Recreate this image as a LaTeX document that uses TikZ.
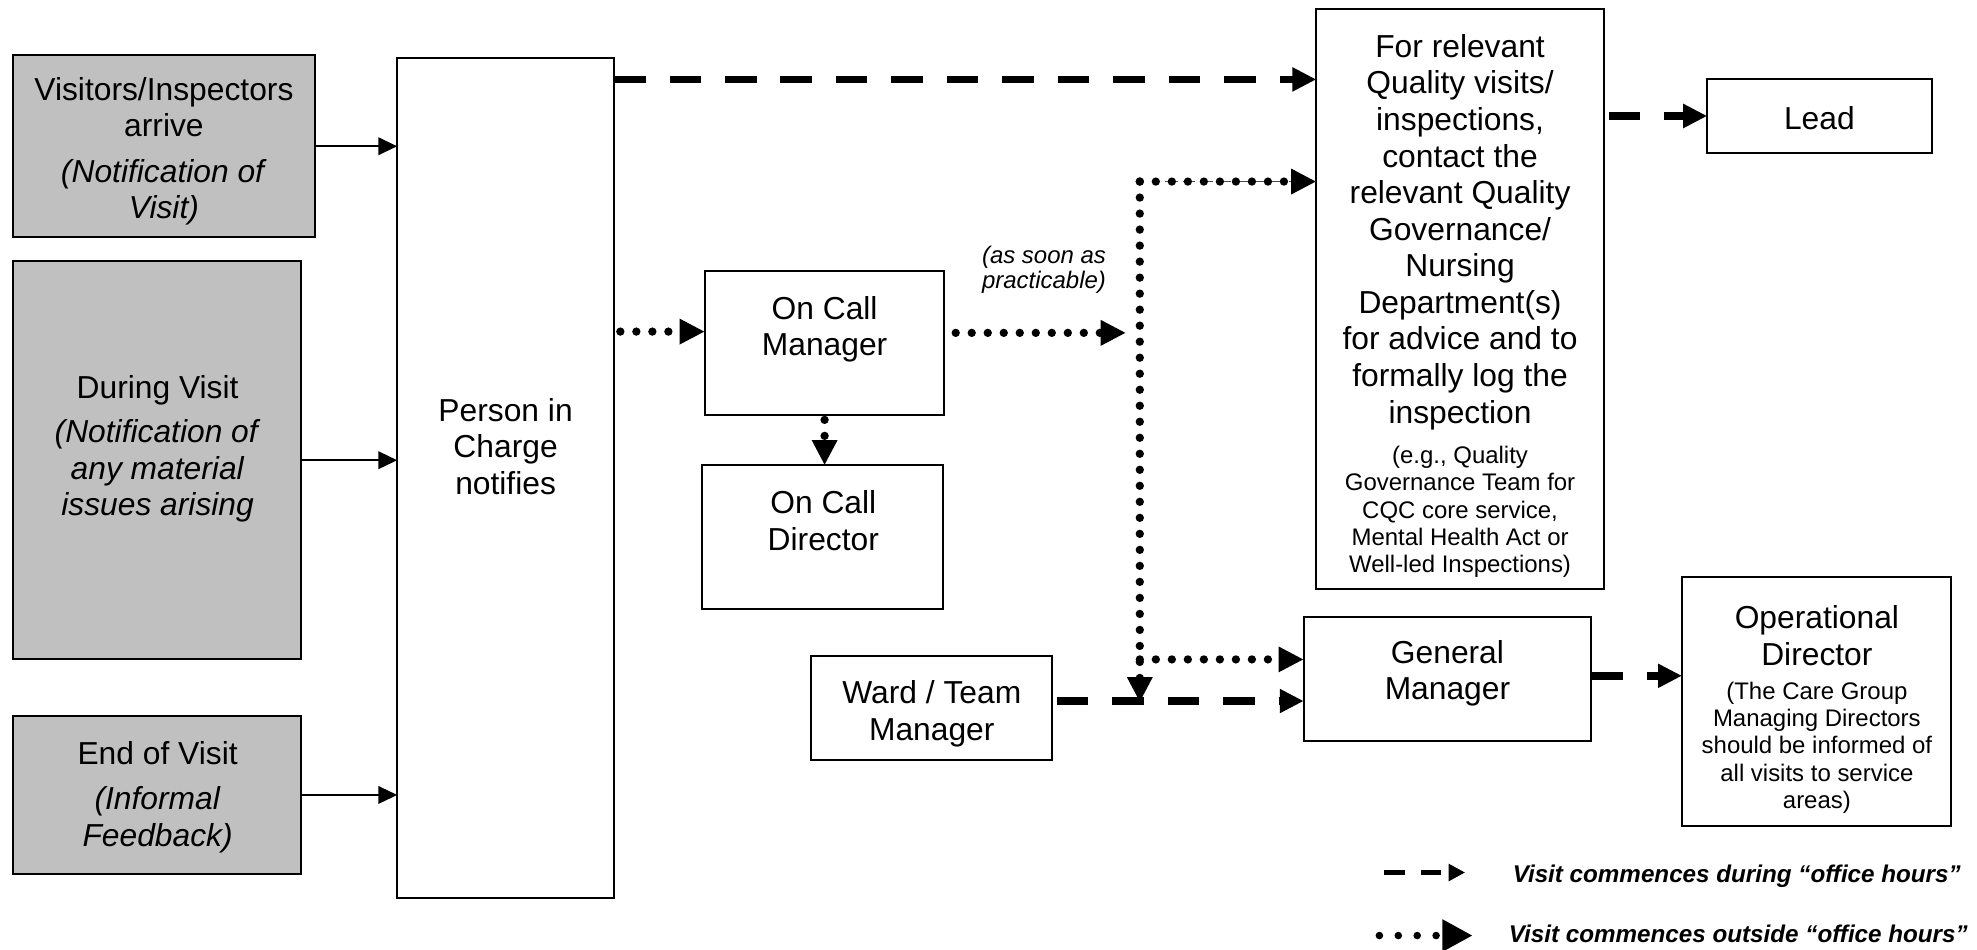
\documentclass[tikz,border=0pt]{standalone}
\usepackage{fontspec}
\setmainfont{Liberation Sans}
\usetikzlibrary{arrows.meta}
\tikzset{every picture/.style={line width=0.8pt}}
\tikzset{
  box/.style={draw, inner sep=0pt, outer sep=0pt},
  gbox/.style={box, fill={rgb, 255:red, 192; green, 192; blue, 192}},
  txt/.style={inner sep=0pt, align=center, font=\fontsize{12.6}{14.5}\selectfont},
  note/.style={inner sep=0pt, align=center, font=\fontsize{9.5}{10.8}\selectfont},
  keytxt/.style={inner sep=0pt, anchor=west, font=\fontsize{9.6}{11}\selectfont\bfseries\itshape},
  thinarr/.style={-{Triangle[length=7.5pt,width=7pt]}, line width=0.8pt},
  dasharr/.style={-{Triangle[length=9.5pt,width=9pt]}, line width=3pt, dash pattern=on 12.5pt off 9.5pt},
  dotarr/.style={-{Triangle[length=10pt,width=9.5pt]}, line width=3.3pt, line cap=round, dash pattern=on 0pt off 6.35pt},
}

\begin{document}
\begin{tikzpicture}[x=0.5pt,y=0.5pt,yscale=-1,xscale=1]
\useasboundingbox (0,0) rectangle (1568,753);

%Shape: Rectangle [visitors arrive]
\draw (130,116) node [gbox, minimum width=120pt, minimum height=72pt] (visit) {};
%Shape: Rectangle [during visit]
\draw (124.5,365) node [gbox, minimum width=114.5pt, minimum height=158pt] (during) {};
%Shape: Rectangle [end of visit]
\draw (124.5,630.5) node [gbox, minimum width=114.5pt, minimum height=62.5pt] (endv) {};
%Shape: Rectangle [person in charge]
\draw (401,379) node [box, minimum width=86pt, minimum height=333pt] (person) {};
%Shape: Rectangle [on call manager]
\draw (654,272) node [box, minimum width=95pt, minimum height=57pt] (ocm) {};
%Shape: Rectangle [on call director]
\draw (652.5,426) node [box, minimum width=95.5pt, minimum height=57pt] (ocd) {};
%Shape: Rectangle [ward / team manager]
\draw (738.5,561.5) node [box, minimum width=95.5pt, minimum height=41.5pt] (ward) {};
%Shape: Rectangle [quality governance]
\draw (1158,237) node [box, minimum width=114pt, minimum height=230pt] (qual) {};
%Shape: Rectangle [lead]
\draw (1443,92) node [box, minimum width=89pt, minimum height=29pt] (lead) {};
%Shape: Rectangle [general manager]
\draw (1148,538.5) node [box, minimum width=114pt, minimum height=49.5pt] (gm) {};
%Shape: Rectangle [operational director]
\draw (1440.5,556.5) node [box, minimum width=106.5pt, minimum height=98.5pt] (od) {};

% Text Node
\draw (130,120) node [txt] (visittxt) {Visitors/Inspectors\\arrive\\[3.5pt]\textit{(Notification of}\\\textit{Visit)}};
% Text Node
\draw (125,356) node [txt] (duringtxt) {During Visit\\[3pt]\textit{(Notification of}\\\textit{any material}\\\textit{issues arising}};
% Text Node
\draw (125,632) node [txt] (endvtxt) {End of Visit\\[3.5pt]\textit{(Informal}\\\textit{Feedback)}};
% Text Node
\draw (401,354) node [txt] (persontxt) {Person in\\Charge\\notifies};
% Text Node
\draw (654,261) node [txt] (ocmtxt) {On Call\\Manager};
% Text Node
\draw (653,413) node [txt] (ocdtxt) {On Call\\Director};
% Text Node
\draw (739,566) node [txt] (wardtxt) {Ward / Team\\Manager};
% Text Node
\draw (1158,184) node [txt] (qualtxt) {For relevant\\Quality visits/\\inspections,\\contact the\\relevant Quality\\Governance/\\Nursing\\Department(s)\\for advice and to\\formally log the\\inspection};
% Text Node
\draw (1158,406) node [note] (qualnote) {(e.g., Quality\\Governance Team for\\CQC core service,\\Mental Health Act or\\Well-led Inspections)};
% Text Node
\draw (1443,94) node [txt] (leadtxt) {Lead};
% Text Node
\draw (1148,534) node [txt] (gmtxt) {General\\Manager};
% Text Node
\draw (1441,504) node [txt] (odtxt) {Operational\\Director};
% Text Node
\draw (1441,593) node [note] (odnote) {(The Care Group\\Managing Directors\\should be informed of\\all visits to service\\areas)};
% Text Node
\draw (828,214) node [note, font=\fontsize{9.5}{10}\selectfont\itshape] (soon) {(as soon as\\practicable)};

%Straight Lines [into person in charge]
\draw [thinarr] (visit.east) -- (person.west |- visit.east);
\draw [thinarr] (during.east) -- (person.west |- during.east);
\draw [thinarr] (endv.east) -- (person.west |- endv.east);

%Straight Lines [office hours]
\draw [dasharr] (person.east |- 0,63) -- (qual.west |- 0,63);
\draw [dasharr] ([xshift=2pt]qual.east |- lead.west) -- (lead.west);
\draw [dasharr] ([xshift=2pt]ward.east |- 0,556) -- (gm.west |- 0,556);
\draw [dasharr] (gm.east |- 0,536) -- (od.west |- 0,536);

%Straight Lines [outside office hours]
\coordinate (vtop) at (904,144);
\coordinate (vbot) at (904,557);
\draw [dotarr] ([xshift=2.5pt]person.east |- 0,263) -- (ocm.west |- 0,263);
\draw [dotarr, shorten <=2pt] (ocm.south) -- (ocm.south |- ocd.north);
\draw [dotarr, shorten >=5.5pt] ([xshift=4.5pt]ocm.east |- 0,264) -- (vtop |- 0,264);
\draw [dotarr] (vtop) -- (vbot);
\draw [red, line width=0.4pt, dash pattern=on 5pt off 2pt] ([xshift=10pt]vtop) -- (qual.west |- vtop);
\draw [dotarr] (vtop) -- (qual.west |- vtop);
\draw [dotarr] (vtop |- 0,523) -- (gm.west |- 0,523);

%Key
\coordinate (dkey0) at (1098,692);
\coordinate (dkey1) at (1162,692);
\coordinate (pkey0) at (1094,742);
\coordinate (pkey1) at (1168,742);
\draw [-{Triangle[length=6.5pt,width=6.5pt]}, line width=2pt, dash pattern=on 8pt off 6.5pt] (dkey0) -- (dkey1);
\draw [dotarr, line width=3pt, dash pattern=on 0pt off 7.5pt, -{Triangle[length=12pt,width=12pt]}] (pkey0) -- (pkey1);
% Text Node
\draw (1199,695) node [keytxt] (dkeytxt) {Visit commences during “office hours”};
% Text Node
\draw (1196,741) node [keytxt] (pkeytxt) {Visit commences outside “office hours”};

\end{tikzpicture}
\end{document}
